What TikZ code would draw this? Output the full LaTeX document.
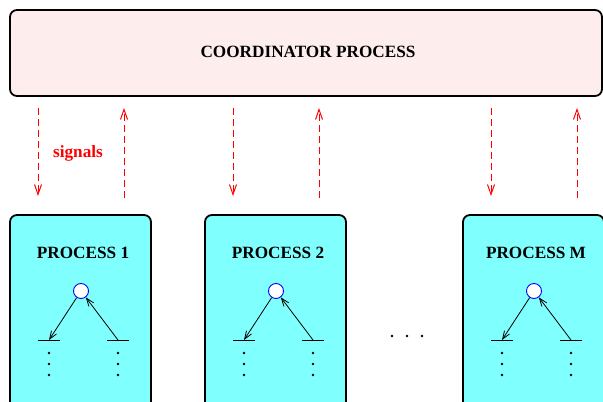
\documentclass[tikz,border=0pt]{standalone}
\usepackage{fontspec}
\setmainfont{Liberation Serif}
\usetikzlibrary{arrows.meta}
\definecolor{coordfill}{RGB}{253,237,237}
\definecolor{procfill}{RGB}{128,255,255}
\tikzset{
  coordbox/.style={draw=black, line width=1.8pt, rounded corners=7pt, fill=coordfill},
  procbox/.style={draw=black, line width=1.8pt, rounded corners=7pt, fill=procfill},
  lbl/.style={font=\fontsize{17.2}{20}\selectfont\bfseries},
  sig/.style={draw=red, line width=1pt, dash pattern=on 7pt off 4pt,
    -{Straight Barb[length=10pt,width=7pt,line width=1pt]}},
  root/.style={circle, draw=blue, fill=white, line width=0.9pt, minimum size=15pt, inner sep=0pt},
  edge/.style={draw=black, line width=0.8pt, -{Straight Barb[length=8pt,width=6pt,line width=0.8pt]}},
  bar/.style={draw=black, line width=1pt},
  pt/.style={fill=black, circle, inner sep=0pt, minimum size=2.6pt}
}
\begin{document}
\begin{tikzpicture}[x=1pt,y=-1pt]
\useasboundingbox (0,0) rectangle (603,402);
\clip (0,0) rectangle (603,402);
% coordinator
\draw[coordbox] (10,10) rectangle (602,96);
\node[lbl] (ctitle) at (308,52) {COORDINATOR PROCESS};
% processes
\foreach \L/\t/\n in {10/1/1, 205/2/2, 463/M/3}{
  \draw[procbox] (\L,215) rectangle ({\L+141},420);
  \node[lbl] (t\n) at ({\L+73},253) {PROCESS \t};
  \node[root] (c\n) at ({\L+71},291) {};
  \coordinate (l\n) at ({\L+39},340);
  \coordinate (r\n) at ({\L+108},340);
  \draw[bar] (l\n) +(-11,0) -- +(11,0);
  \draw[bar] (r\n) +(-11,0) -- +(11,0);
  \draw[edge] (c\n) -- (l\n);
  \draw[edge] (r\n) -- (c\n);
  \foreach \y in {13,24,35}{
    \node[pt] at ([yshift=-\y pt]l\n) {};
    \node[pt] at ([yshift=-\y pt]r\n) {};
  }
  \coordinate (d\n) at ({\L+28},215);
  \coordinate (u\n) at ({\L+114},215);
  \coordinate (dt\n) at ({\L+28},96);
  \coordinate (ut\n) at ({\L+114},96);
  \draw[sig, shorten <=12pt, shorten >=19pt] (dt\n) -- (d\n);
  \draw[sig, shorten <=17pt, shorten >=12pt] (u\n) -- (ut\n);
}
\node[lbl, text=red] (sigl) at (78,153) {signals};
% ellipsis between process 2 and process M
\node[pt] (e1) at (392,336) {};
\node[pt] (e2) at (407,336) {};
\node[pt] (e3) at (422,336) {};
\end{tikzpicture}
\end{document}
